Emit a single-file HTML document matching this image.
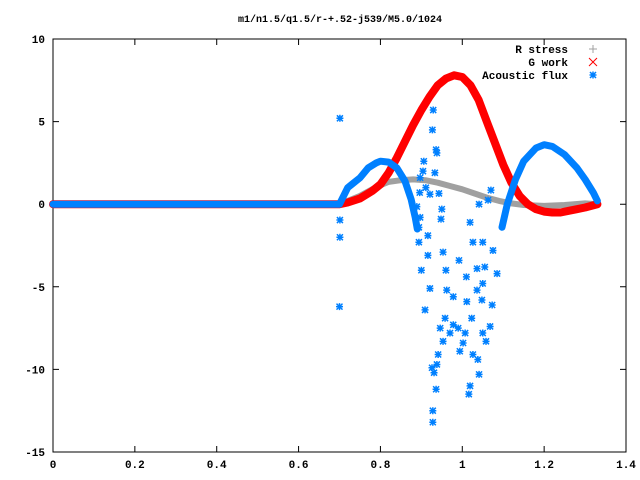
<!DOCTYPE html>
<html><head><meta charset="utf-8"><style>
body{margin:0;background:#fff}
svg{display:block;font-family:"Liberation Mono",monospace;font-size:11px;font-weight:bold}
</style></head><body>
<svg id="chart" width="640" height="480" xmlns="http://www.w3.org/2000/svg">
<rect width="640" height="480" fill="#fff"/>
<text x="340" y="22" text-anchor="middle" font-size="10">m1/n1.5/q1.5/r-+.52-j539/M5.0/1024</text>
<g id="axes"></g><g id="plot"></g><g id="legend"></g>
</svg>
<script>
const xTicks=[0,0.2,0.4,0.6,0.8,1,1.2,1.4];
const xTickLabels=["0","0.2","0.4","0.6","0.8","1","1.2","1.4"];
const yTicks=[10,5,0,-5,-10,-15];
const yTickLabels=["10","5","0","-5","-10","-15"];
const gworkX=[0,0.1,0.2,0.3,0.4,0.5,0.6,0.7,0.72,0.75,0.78,0.80,0.82,0.84,0.86,0.88,0.90,0.92,0.94,0.96,0.98,1.00,1.02,1.04,1.06,1.08,1.10,1.12,1.14,1.16,1.18,1.20,1.22,1.24,1.26,1.28,1.30,1.33];
const gworkY=[0,0,0,0,0,0,0,0,0.1,0.35,0.8,1.2,1.9,2.8,3.8,4.8,5.7,6.5,7.2,7.6,7.8,7.7,7.2,6.3,5.0,3.7,2.4,1.3,0.5,0.0,-0.3,-0.45,-0.5,-0.5,-0.4,-0.3,-0.2,0];
const rstressX=[0.70,0.72,0.75,0.78,0.80,0.82,0.85,0.88,0.91,0.94,0.97,1.00,1.03,1.06,1.09,1.12,1.15,1.20,1.25,1.30,1.33];
const rstressY=[0,0.2,0.5,0.9,1.15,1.35,1.45,1.5,1.45,1.3,1.1,0.9,0.65,0.4,0.2,0.05,-0.05,-0.1,-0.05,0.05,0];
const fluxX=[0,0.1,0.2,0.3,0.4,0.5,0.6,0.7,0.71,0.72,0.73,0.75,0.77,0.79,0.80,0.82,0.84,0.86,0.875,0.885,0.89];
const fluxY=[0,0,0,0,0,0,0,0,0.5,1.0,1.2,1.6,2.2,2.5,2.6,2.55,2.2,1.4,0.3,-0.8,-1.5];
const flux2X=[1.097,1.11,1.13,1.15,1.18,1.20,1.22,1.25,1.28,1.30,1.32,1.33];
const flux2Y=[-1.4,0,1.5,2.6,3.4,3.6,3.5,3.0,2.2,1.5,0.7,0.2];
const scatX=[0.701,0.701,0.70,0.701,0.889,0.897,0.894,0.95,0.948,1.019,0.916,0.894,0.953,0.916,0.992,0.9,0.921,0.96,1.01,1.036,1.055,1.026,1.05,1.075,1.085,1.05,1.036,0.962,0.978,1.011,1.048,1.073,0.909,0.958,0.978,0.99,1.023,1.068,0.946,0.97,1.007,1.05,0.953,1.002,1.058,0.994,1.026,1.038,0.941,0.938,0.926,0.931,1.041,0.936,1.019,1.016,0.928,0.928,0.929,0.927,0.936,0.938,0.906,0.904,0.933,0.897,0.911,0.896,0.921,0.943,1.07,1.063,1.041];
const scatY=[-0.96,-2.0,-6.2,5.2,-0.15,-0.8,-1.4,-0.3,-0.9,-1.1,-1.9,-2.3,-2.9,-3.1,-3.4,-4.0,-5.1,-4.0,-4.4,-3.9,-3.8,-2.3,-2.3,-2.8,-4.2,-4.8,-5.2,-5.2,-5.6,-5.9,-5.8,-6.1,-6.4,-6.9,-7.3,-7.5,-6.9,-7.4,-7.5,-7.8,-7.8,-7.8,-8.3,-8.4,-8.3,-8.9,-9.1,-9.4,-9.1,-9.7,-9.9,-10.2,-10.3,-11.2,-11.0,-11.5,-12.5,-13.2,5.7,4.5,3.3,3.1,2.6,2.0,1.9,1.6,1.0,0.7,0.6,0.65,0.85,0.25,0];
const L=53,R=626,T=39,B=452,X0=0,X1=1.4,Y0=-15,Y1=10;
const sx=v=>L+(v-X0)/(X1-X0)*(R-L);
const sy=v=>B-(v-Y0)/(Y1-Y0)*(B-T);
const NS="http://www.w3.org/2000/svg";
function mk(tag,attrs,parent){const e=document.createElementNS(NS,tag);for(const k in attrs)e.setAttribute(k,attrs[k]);parent.appendChild(e);return e;}
const axes=document.getElementById('axes'),plot=document.getElementById('plot'),leg=document.getElementById('legend');
const frame=mk('rect',{x:L,y:T,width:R-L,height:B-T,fill:'none',stroke:'#000','stroke-width':1},axes);


xTicks.forEach((v,i)=>{const x=sx(v);
 const t=mk('path',{d:`M${x},${B}v-6M${x},${T}v6`,stroke:'#000'},axes);
 
 
 const tx=mk('text',{x:x,y:B+16,'text-anchor':'middle'},axes);tx.textContent=xTickLabels[i];
 
 });
yTicks.forEach((v,i)=>{const y=sy(v);
 const t=mk('path',{d:`M${L},${y}h6M${R},${y}h-6`,stroke:'#000'},axes);
 
 
 const tx=mk('text',{x:L-8,y:y+4,'text-anchor':'end'},axes);tx.textContent=yTickLabels[i];
 
 });
function line(xs,ys,col,w,name){const d=xs.map((v,i)=>(i?'L':'M')+sx(v).toFixed(1)+','+sy(ys[i]).toFixed(1)).join('');
 const p=mk('path',{d:d,fill:'none',stroke:col,'stroke-width':w,'stroke-linejoin':'round','stroke-linecap':'round'},plot);
 
 }
function star(x,y,col,name,g){const d=`M${x-3.5},${y}h7M${x},${y-3.5}v7M${x-3},${y-3}l6,6M${x-3},${y+3}l6,-6`;
 const p=mk('path',{d:d,stroke:col,'stroke-width':1.5},g);
 
 }
line(rstressX,rstressY,'#a0a0a0',6,'r-stress-series');
line(gworkX,gworkY,'#ff0000',8,'g-work-series');
line(fluxX,fluxY,'#0080ff',7,'acoustic-flux-series');
line(flux2X,flux2Y,'#0080ff',7,'acoustic-flux-series-right');
scatX.forEach((v,i)=>star(sx(v),sy(scatY[i]),'#0080ff','acoustic-flux-point',plot));
const entries=[["R stress","#a0a0a0","plus"],["G work","#ff0000","x"],["Acoustic flux","#0080ff","star"]];
entries.forEach((e,i)=>{const y=49+i*13;
 const t=mk('text',{x:568,y:y+4,'text-anchor':'end'},leg);t.textContent=e[0];
 
 
 const x=593;
 if(e[2]==='plus'){const p=mk('path',{d:`M${x-4},${y}h8M${x},${y-4}v8`,stroke:e[1]},leg);}
 else if(e[2]==='x'){const p=mk('path',{d:`M${x-4},${y-4}l8,8M${x-4},${y+4}l8,-8`,stroke:e[1]},leg);}
 else star(x,y,e[1],'legend-marker',leg);});
</script>
</body></html>
